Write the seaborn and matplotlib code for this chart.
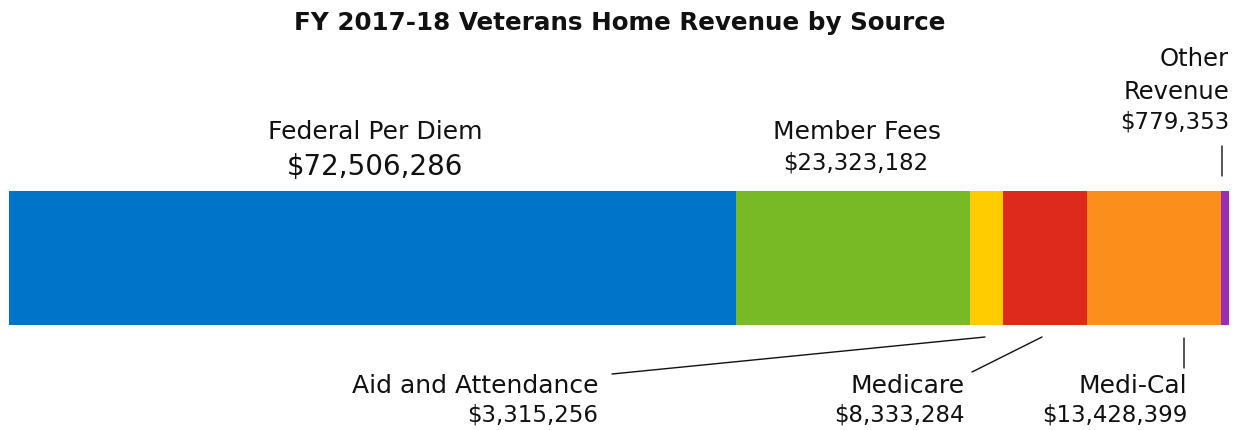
import matplotlib
matplotlib.use("Agg")
import matplotlib.pyplot as plt
import numpy as np
import seaborn as sns

sources = ["Federal Per Diem", "Member Fees", "Aid and Attendance",
           "Medicare", "Medi-Cal", "Other Revenue"]
amounts = [72506286, 23323182, 3315256, 8333284, 13428399, 779353]
colors = ["#0074C8", "#78BA25", "#FFCC00", "#DE2A1D", "#FC8F1C", "#9B2CB4"]

sns.set_theme(style="white")
plt.rcParams['font.family'] = ['DejaVu Sans']

W, H = 1241, 430
fig = plt.figure(figsize=(W / 100, H / 100), dpi=100)
ax = fig.add_axes([0, 0, 1, 1])

total = sum(amounts)
cum = np.cumsum(amounts)

# stacked bar: draw cumulative totals from largest to smallest
for i in reversed(range(len(sources))):
    sns.barplot(x=[cum[i]], y=["Revenue"], color=colors[i], saturation=1,
                width=1, linewidth=0, orient="h", ax=ax)

# map data to the pixel layout of the reference
s = total / 1220
ax.set_xlim(-9 * s, (W - 9) * s)
ax.set_ylim((H - 258) / 134, -258 / 134)
ax.axis("off")

NAME_SIZE = 18
VALUE_SIZE = 16.5


def fy(y):
    return H - y


def label(x, y, txt, size=NAME_SIZE, ha="center", weight="normal"):
    ax.annotate(txt, xy=(x, fy(y)), xycoords="figure pixels", ha=ha,
                va="center", fontsize=size, color="#111111", fontweight=weight)


def line(x0, y0, x1, y1):
    ax.annotate("", xy=(x1, fy(y1)), xytext=(x0, fy(y0)),
                xycoords="figure pixels", textcoords="figure pixels",
                arrowprops=dict(arrowstyle="-", color="#111111", lw=1,
                                shrinkA=0, shrinkB=0))


label(620, 23, "FY 2017-18 Veterans Home Revenue by Source", size=17.7, weight="bold")

label(375, 132, sources[0])
label(375, 167, f"${amounts[0]:,}", size=20)
label(857, 132, sources[1])
label(856, 163, f"${amounts[1]:,}", size=VALUE_SIZE)

label(1229, 59, "Other", ha="right", size=17.5)
label(1229, 92, "Revenue", ha="right", size=17.5)
label(1229, 122, f"${amounts[5]:,}", ha="right", size=VALUE_SIZE)
line(1222, 146, 1222, 176)

label(598, 386, sources[2], ha="right")
label(598, 415, f"${amounts[2]:,}", ha="right", size=VALUE_SIZE)
line(612, 374, 985, 337)

label(965, 386, sources[3], ha="right")
label(965, 415, f"${amounts[3]:,}", ha="right", size=VALUE_SIZE)
line(972, 372, 1042, 337)

label(1187, 386, sources[4], ha="right")
label(1187, 415, f"${amounts[4]:,}", ha="right", size=VALUE_SIZE)
line(1184, 338, 1184, 368)

fig.savefig("out.png", dpi=100)
